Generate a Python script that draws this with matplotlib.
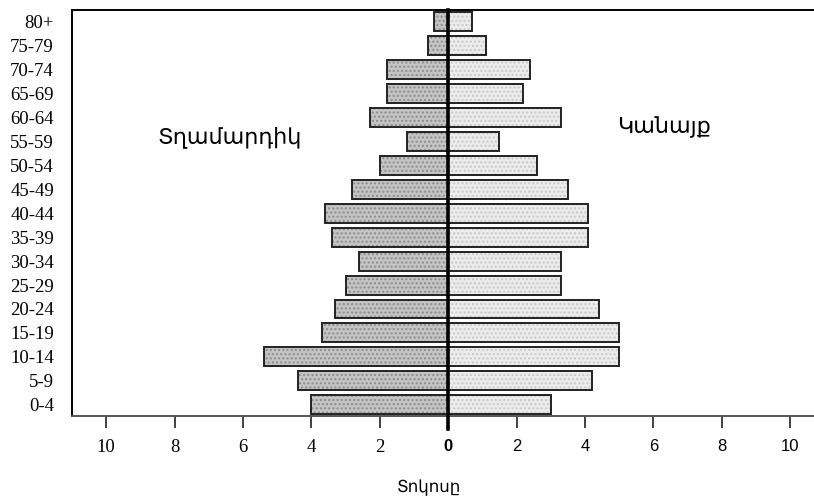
import numpy as np
import matplotlib
matplotlib.use("Agg")
import matplotlib.pyplot as plt
from matplotlib.transforms import blended_transform_factory

# age groups, bottom to top
ages = ["0-4", "5-9", "10-14", "15-19", "20-24", "25-29", "30-34", "35-39",
        "40-44", "45-49", "50-54", "55-59", "60-64", "65-69", "70-74", "75-79", "80+"]
# percent of population
men = [4.0, 4.4, 5.4, 3.7, 3.3, 3.0, 2.6, 3.4, 3.6, 2.8, 2.0, 1.2, 2.3, 1.8, 1.8, 0.6, 0.4]
women = [3.0, 4.2, 5.0, 5.0, 4.4, 3.3, 3.3, 4.1, 4.1, 3.5, 2.6, 1.5, 3.3, 2.2, 2.4, 1.1, 0.7]
tick_vals = [-10, -8, -6, -4, -2, 0, 2, 4, 6, 8, 10]
tick_labels = ["10", "8", "6", "4", "2", "0", "2", "4", "6", "8", "10"]

fig = plt.figure(figsize=(8.14, 5.0), dpi=100)
ax = fig.add_axes([0.0885, 0.168, 0.9115, 0.813])

y = np.arange(len(ages))
h = 0.79

# filled, dotted bars
ax.barh(y, [-m for m in men], height=h, color="#c4c4c4", hatch="....",
        edgecolor="#8c8c8c", linewidth=0, zorder=2)
ax.barh(y, women, height=h, color="#ececec", hatch="....",
        edgecolor="#c8c8c8", linewidth=0, zorder=2)
# outlines
ax.barh(y, [-m for m in men], height=h, fill=False, edgecolor="#222222", linewidth=1.4, zorder=3)
ax.barh(y, women, height=h, fill=False, edgecolor="#222222", linewidth=1.4, zorder=3)

# centre line running past the axis
trans = blended_transform_factory(ax.transData, ax.transAxes)
ax.plot([0, 0], [-0.032, 1], color="black", linewidth=2.6, transform=trans,
        clip_on=False, zorder=5)

ax.set_xlim(-11, 10.7)
ax.set_ylim(-0.47, 16.51)

ax.set_yticks(y)
ax.set_yticklabels(ages, family="Liberation Serif", fontsize=13.5)
ax.tick_params(axis="y", length=0, pad=13)

ax.set_xticks(tick_vals)
ax.set_xticklabels(tick_labels)
ax.tick_params(axis="x", length=8.5, width=1.3, color="#333333", pad=8)
for v, lab in zip(tick_vals, ax.get_xticklabels()):
    if v < 0:
        lab.set_fontfamily("Liberation Serif")
        lab.set_fontsize(13.5)
    elif v == 0:
        lab.set_fontfamily("Liberation Sans")
        lab.set_fontweight("bold")
        lab.set_fontsize(12)
    else:
        lab.set_fontfamily("Liberation Sans")
        lab.set_fontsize(12)

ax.spines["right"].set_visible(False)
ax.spines["left"].set_linewidth(1.4)
ax.spines["top"].set_linewidth(1.4)
ax.spines["bottom"].set_linewidth(1.4)
ax.spines["bottom"].set_color("#555555")

ax.text(-6.4, 11.2, "Տղամարդիկ", family="DejaVu Sans", fontsize=16,
        ha="center", va="center")
ax.text(6.3, 11.6, "Կանայք", family="DejaVu Sans", fontsize=16,
        ha="center", va="center")
fig.text(429 / 814, 1 - 487 / 500, "Տոկոսը", family="DejaVu Sans", fontsize=12,
         ha="center", va="center")

fig.savefig("out.png", dpi=100)
